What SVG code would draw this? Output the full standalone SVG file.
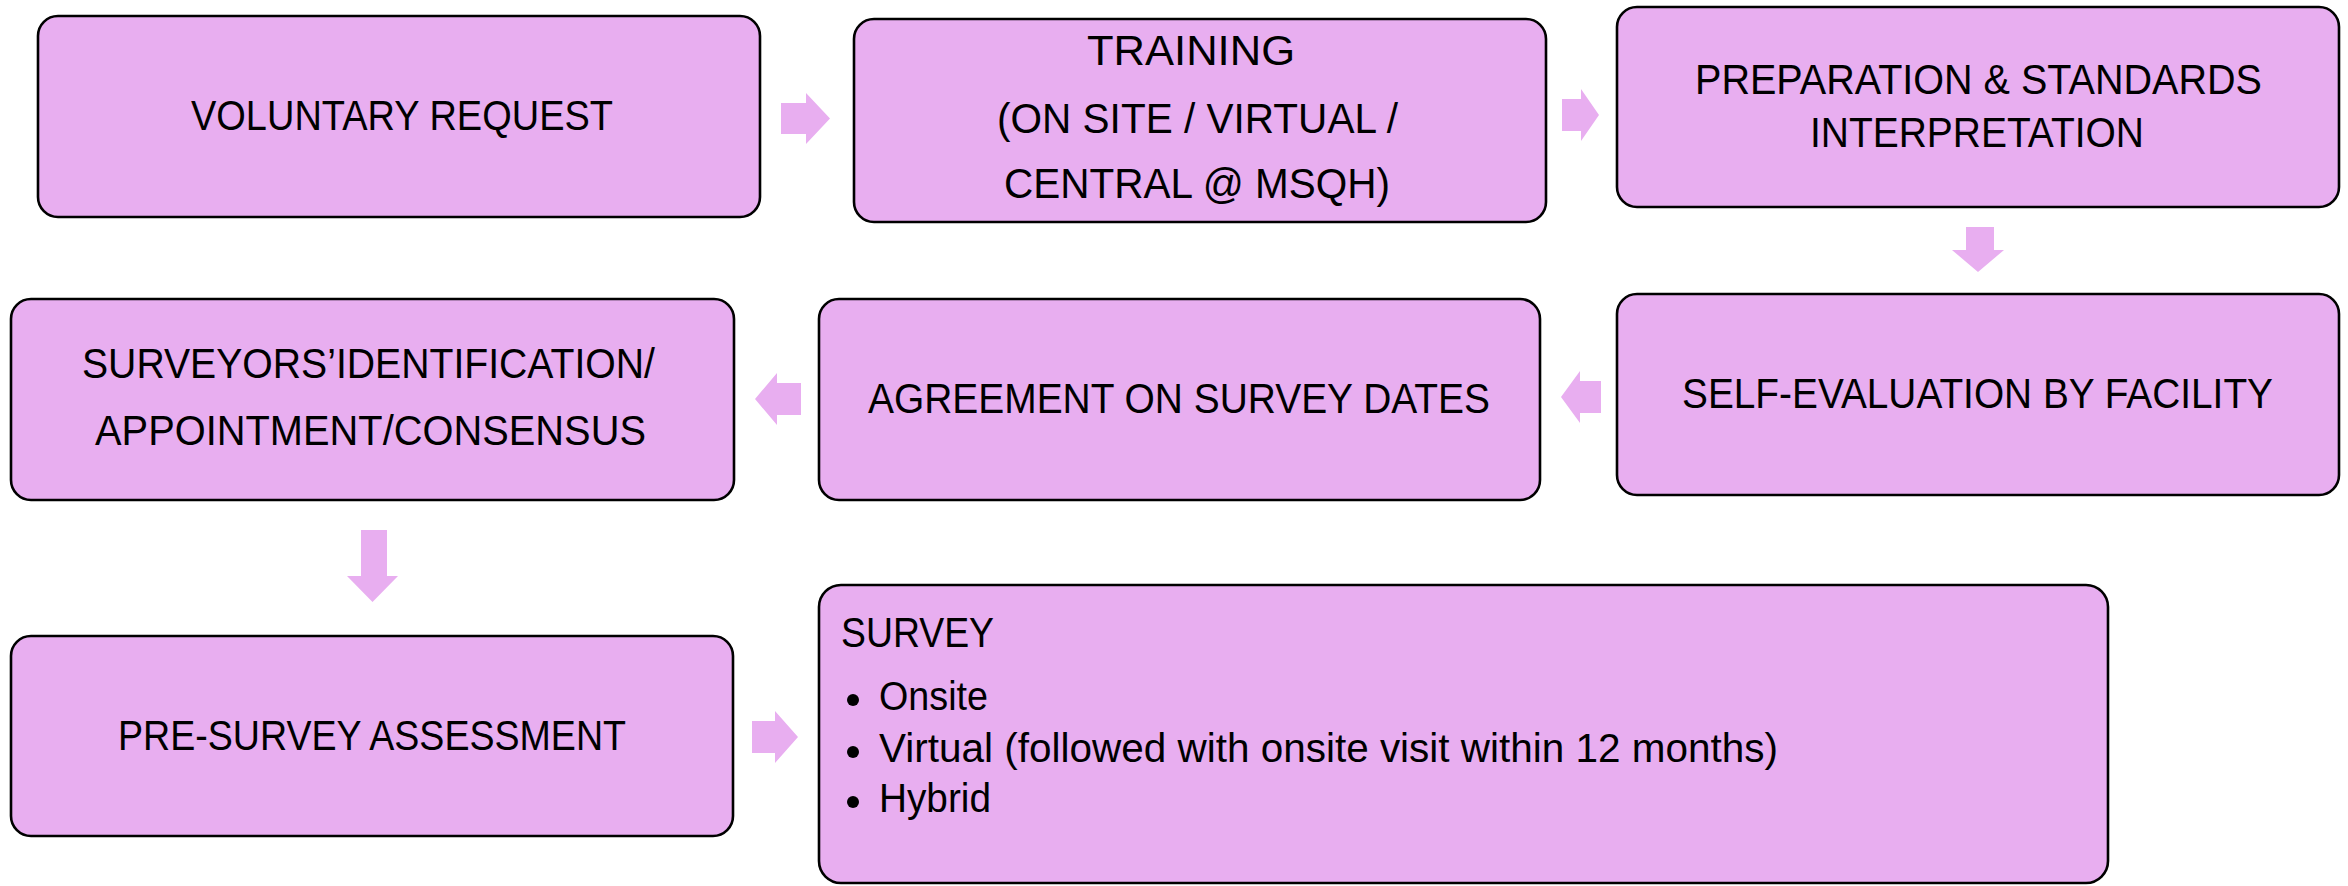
<svg xmlns="http://www.w3.org/2000/svg" width="2348" height="886" viewBox="0 0 2348 886">
  <style>
    .box { fill: #e8aef0; stroke: #000; stroke-width: 2.6; }
    .arrow { fill: #e8aef0; stroke: none; }
    .lbl { font-family: "Liberation Sans Narrow", "Liberation Sans", Arial, sans-serif; font-size: 43px; fill: #000; }
    .item { font-family: "Liberation Sans Narrow", "Liberation Sans", Arial, sans-serif; font-size: 40px; fill: #000; }
  </style>
  <rect width="2348" height="886" fill="#fff"/>

  <!-- block arrows between steps -->
  <g id="connectors">
    <polygon class="arrow" points="781,103 806,103 806,93 830,118.5 806,144 806,134 781,134"/>
    <polygon class="arrow" points="1562,99 1581,99 1581,89 1599,115 1581,141 1581,131 1562,131"/>
    <polygon class="arrow" points="1966,227 1994,227 1994,250 2004,250 1978,272 1952,250 1966,250"/>
    <polygon class="arrow" points="1601,381 1580,381 1580,371 1561,397 1580,423 1580,413 1601,413"/>
    <polygon class="arrow" points="801,383 777,383 777,373 755,399 777,425 777,415 801,415"/>
    <polygon class="arrow" points="361,530 387,530 387,576 398,576 372.5,602 347,576 361,576"/>
    <polygon class="arrow" points="752,721 775,721 775,711 798,737 775,763 775,753 752,753"/>
  </g>

  <g id="voluntary-request">
    <rect class="box" x="38" y="16" width="722" height="201" rx="20"/>
    <text class="lbl" x="191" y="130" textLength="422" lengthAdjust="spacingAndGlyphs">VOLUNTARY REQUEST</text>
  </g>

  <g id="training">
    <rect class="box" x="854" y="19" width="692" height="203" rx="20"/>
    <text class="lbl" x="1087" y="65" textLength="208" lengthAdjust="spacingAndGlyphs">TRAINING</text>
    <text class="lbl" x="997" y="133" textLength="401" lengthAdjust="spacingAndGlyphs">(ON SITE / VIRTUAL /</text>
    <text class="lbl" x="1004" y="198" textLength="386" lengthAdjust="spacingAndGlyphs">CENTRAL @ MSQH)</text>
  </g>

  <g id="preparation">
    <rect class="box" x="1617" y="7" width="722" height="200" rx="20"/>
    <text class="lbl" x="1695" y="94" textLength="567" lengthAdjust="spacingAndGlyphs">PREPARATION &amp; STANDARDS</text>
    <text class="lbl" x="1810" y="147" textLength="334" lengthAdjust="spacingAndGlyphs">INTERPRETATION</text>
  </g>

  <g id="self-evaluation">
    <rect class="box" x="1617" y="294" width="722" height="201" rx="20"/>
    <text class="lbl" x="1682" y="408" textLength="591" lengthAdjust="spacingAndGlyphs">SELF-EVALUATION BY FACILITY</text>
  </g>

  <g id="agreement">
    <rect class="box" x="819" y="299" width="721" height="201" rx="20"/>
    <text class="lbl" x="868" y="413" textLength="622" lengthAdjust="spacingAndGlyphs">AGREEMENT ON SURVEY DATES</text>
  </g>

  <g id="surveyors">
    <rect class="box" x="11" y="299" width="723" height="201" rx="20"/>
    <text class="lbl" x="82" y="378" textLength="573" lengthAdjust="spacingAndGlyphs">SURVEYORS’IDENTIFICATION/</text>
    <text class="lbl" x="95" y="445" textLength="551" lengthAdjust="spacingAndGlyphs">APPOINTMENT/CONSENSUS</text>
  </g>

  <g id="pre-survey">
    <rect class="box" x="11" y="636" width="722" height="200" rx="20"/>
    <text class="lbl" x="118" y="750" textLength="508" lengthAdjust="spacingAndGlyphs">PRE-SURVEY ASSESSMENT</text>
  </g>

  <g id="survey">
    <rect class="box" x="819" y="585" width="1289" height="298" rx="22"/>
    <text class="lbl" x="841" y="647" textLength="153" lengthAdjust="spacingAndGlyphs">SURVEY</text>
    <circle cx="853" cy="700" r="6"/>
    <text class="item" x="879" y="710" textLength="109" lengthAdjust="spacingAndGlyphs">Onsite</text>
    <circle cx="853" cy="752" r="6"/>
    <text class="item" x="879" y="762" textLength="899" lengthAdjust="spacingAndGlyphs">Virtual (followed with onsite visit within 12 months)</text>
    <circle cx="853" cy="802" r="6"/>
    <text class="item" x="879" y="812" textLength="112" lengthAdjust="spacingAndGlyphs">Hybrid</text>
  </g>
</svg>
